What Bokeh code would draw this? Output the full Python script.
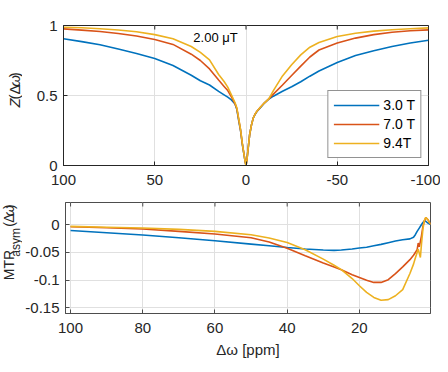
import math
from bokeh.plotting import figure
from bokeh.layouts import column, row
from bokeh.models import Range1d, FixedTicker, CustomJSTickFormatter, Label
from bokeh.embed import file_html
from bokeh.resources import INLINE

# ---------------- data ----------------
series_labels = ["3.0 T", "7.0 T", "9.4T"]
colors = ["#0072BD", "#D95319", "#EDB120"]

# Z-spectra (offset in ppm, normalised signal)
z_x = [100, 90, 80, 70, 60, 50, 40, 30, 25, 20, 15, 12, 10, 8, 6, 5, 4, 3, 2, 1, 0.5, 0,
       -0.5, -1, -2, -3, -4, -5, -6, -8, -10, -12.5, -15, -20, -25, -30, -35, -40,
       -50, -60, -70, -80, -90, -100]
z_3T = [0.905, 0.885, 0.862, 0.832, 0.800, 0.765, 0.714, 0.645, 0.605, 0.575, 0.530,
        0.505, 0.488, 0.468, 0.440, 0.400, 0.320, 0.250, 0.150, 0.070, 0.030, 0.0,
        0.040, 0.100, 0.220, 0.290, 0.340, 0.365, 0.385, 0.415, 0.445, 0.474, 0.495,
        0.530, 0.562, 0.598, 0.638, 0.675, 0.735, 0.785, 0.820, 0.850, 0.875, 0.895]
z_7T = [0.976, 0.967, 0.957, 0.943, 0.925, 0.900, 0.865, 0.795, 0.750, 0.690, 0.610,
        0.565, 0.535, 0.490, 0.440, 0.405, 0.330, 0.255, 0.155, 0.072, 0.032, 0.0,
        0.040, 0.100, 0.220, 0.290, 0.340, 0.368, 0.388, 0.418, 0.446, 0.476, 0.510,
        0.575, 0.643, 0.710, 0.775, 0.825, 0.875, 0.910, 0.935, 0.952, 0.962, 0.969]
z_94T = [0.988, 0.984, 0.977, 0.968, 0.955, 0.935, 0.905, 0.850, 0.808, 0.755, 0.650,
         0.600, 0.560, 0.505, 0.448, 0.410, 0.335, 0.258, 0.157, 0.073, 0.032, 0.0,
         0.040, 0.100, 0.220, 0.290, 0.340, 0.368, 0.388, 0.418, 0.446, 0.476, 0.535,
         0.640, 0.720, 0.790, 0.845, 0.878, 0.921, 0.945, 0.960, 0.970, 0.977, 0.983]

# MTR asymmetry
m_x_3T = [100, 90, 80, 70, 60, 50, 45, 40, 35, 30, 27, 25, 22, 20, 18, 16, 14, 12, 10, 8,
          6, 5, 4.5, 4, 3.5, 3, 2.5, 2, 1.6, 1, 0.5, 0]
m_3T = [-0.0104, -0.0145, -0.0186, -0.0235, -0.029, -0.035, -0.038, -0.041, -0.0437,
        -0.0455, -0.0462, -0.0455, -0.0438, -0.042, -0.0405, -0.038, -0.0355, -0.0325,
        -0.0295, -0.0272, -0.0255, -0.0225, -0.018, -0.012, -0.007, -0.002, 0.003,
        0.007, 0.006, 0.003, 0.001, 0.0]
m_x_7T = [100, 90, 80, 70, 60, 50, 45, 40, 35, 30, 27, 25, 22, 20, 18, 16, 14, 12, 10, 8,
          6, 5, 4.5, 4, 3.7, 3.4, 2.8, 2.4, 2, 1.6, 1, 0.5, 0]
m_7T = [-0.0036, -0.0055, -0.0078, -0.012, -0.0168, -0.0235, -0.031, -0.0425, -0.056,
        -0.069, -0.076, -0.081, -0.090, -0.095, -0.100, -0.104, -0.104, -0.099, -0.088,
        -0.076, -0.063, -0.055, -0.050, -0.045, -0.033, -0.040, -0.020, -0.003, 0.006,
        0.013, 0.009, 0.003, 0.0]
m_x_94T = [100, 90, 80, 70, 60, 50, 45, 40, 35, 30, 27, 25, 22, 20, 18, 16, 14, 12, 10, 8,
           6, 5, 4.5, 4, 3.7, 3.1, 2.8, 2.4, 2, 1.6, 1, 0.5, 0]
m_94T = [-0.003, -0.0045, -0.006, -0.0085, -0.012, -0.018, -0.024, -0.032, -0.045,
         -0.062, -0.073, -0.081, -0.097, -0.110, -0.122, -0.131, -0.136, -0.135, -0.128,
         -0.117, -0.088, -0.071, -0.060, -0.050, -0.044, -0.059, -0.035, -0.008, 0.008,
         0.013, 0.009, 0.003, 0.0]

top_xticks = [100, 50, 0, -50, -100]
top_yticks = [0, 0.5, 1]
bot_xticks = [100, 80, 60, 40, 20]
bot_yticks = [-0.15, -0.1, -0.05, 0]
annotation = "2.00 μT"

# ---------------- style ----------------
FONT = "Liberation Sans"
TXT = "#262626"
GRID = "#e0e0e0"
LAB_W = 22  # width of the strip holding the rotated y-axis titles


def style(p, xt, yt, axcol):
    for ax in p.axis:
        ax.axis_line_color = axcol
        ax.axis_line_width = 1
        ax.major_tick_line_color = axcol
        ax.minor_tick_line_color = None
        ax.major_tick_in = 4
        ax.major_tick_out = 0
        ax.major_label_text_font = FONT
        ax.major_label_text_font_size = "15px"
        ax.major_label_text_color = TXT
        ax.formatter = CustomJSTickFormatter(code="return tick.toString();")
    p.xaxis.ticker = FixedTicker(ticks=xt)
    p.yaxis.ticker = FixedTicker(ticks=yt)
    p.xaxis.major_label_standoff = 9
    p.yaxis.major_label_standoff = 6
    p.xgrid.grid_line_color = GRID
    p.ygrid.grid_line_color = GRID
    p.outline_line_color = axcol
    p.background_fill_color = "white"
    p.border_fill_color = "white"
    # inward ticks on the top and right edges of the box
    xr, yr = p.x_range, p.y_range
    p.ray(x=xt, y=[yr.end] * len(xt), length=4, length_units="screen",
          angle=-math.pi / 2, line_color=axcol, line_width=1)
    p.ray(x=[xr.end] * len(yt), y=yt, length=4, length_units="screen",
          angle=0 if xr.end < xr.start else math.pi, line_color=axcol, line_width=1)


def title_strip(height, pieces):
    """Narrow figure (pixel coordinates, y downward) holding a rotated axis title."""
    s = figure(width=LAB_W, height=height, x_range=Range1d(0, LAB_W),
               y_range=Range1d(height, 0), output_backend="svg", toolbar_location=None,
               min_border=0, outline_line_color=None)
    s.axis.visible = False
    s.grid.visible = False
    s.border_fill_color = "white"
    s.background_fill_color = "white"
    for text, x, y, size, st in pieces:
        s.add_layout(Label(x=x, y=y, text=text, angle=math.pi / 2, angle_units="rad",
                           text_align="left", text_baseline="middle", text_font=FONT,
                           text_font_size=size, text_font_style=st, text_color=TXT))
    return s


# ---------------- top: Z-spectra ----------------
top = figure(width=440 - LAB_W, height=193, x_range=Range1d(100, -100),
             y_range=Range1d(0, 1), output_backend="svg", toolbar_location=None,
             min_border_left=63 - LAB_W, min_border_right=12, min_border_top=25,
             min_border_bottom=28)
for ys, lab, c in zip([z_3T, z_7T, z_94T], series_labels, colors):
    top.line(z_x, ys, line_color=c, line_width=1.6, legend_label=lab)
style(top, top_xticks, top_yticks, "#262626")

top.add_layout(Label(x=16.7, y=0.916, text=annotation, text_align="center",
                     text_baseline="middle", text_font=FONT, text_font_size="13px",
                     text_color="black"))

lg = top.legend[0]
lg.location = "bottom_right"
lg.border_line_color = "#262626"
lg.border_line_width = 1
lg.background_fill_color = "white"
lg.background_fill_alpha = 1
lg.label_text_font = FONT
lg.label_text_font_size = "14px"
lg.label_text_color = "black"
lg.glyph_width = 46
lg.glyph_height = 18
lg.label_height = 18
lg.spacing = 1
lg.padding = 5
lg.margin = 7
lg.label_standoff = 4

top_title = title_strip(193, [
    ("Z", 13.5, 113, "15px", "italic"),
    ("(", 13.5, 102, "15px", "normal"),
    ("Δ", 13.5, 95, "15px", "normal"),
    ("ω", 13.5, 84.5, "15px", "italic"),
    (")", 13.5, 71.5, "15px", "normal"),
])

# ---------------- bottom: MTR asymmetry ----------------
bot = figure(width=440 - LAB_W, height=170, x_range=Range1d(101.4, 0.3),
             y_range=Range1d(-0.16, 0.04), output_backend="svg", toolbar_location=None,
             min_border_left=63 - LAB_W, min_border_right=10, min_border_top=9,
             min_border_bottom=50)
for xs, ys, c in zip([m_x_3T, m_x_7T, m_x_94T], [m_3T, m_7T, m_94T], colors):
    bot.line(xs, ys, line_color=c, line_width=1.6)
style(bot, bot_xticks, bot_yticks, "#4d4d4d")
xa = bot.below[0]
xa.axis_label = "Δω [ppm]"
xa.axis_label_text_font = FONT
xa.axis_label_text_font_size = "15px"
xa.axis_label_text_font_style = "normal"
xa.axis_label_text_color = TXT
xa.axis_label_standoff = 5

bot_title = title_strip(170, [
    ("MTR", 8, 119, "14px", "normal"),
    ("asym", 15, 83, "12px", "normal"),
    ("(", 8.5, 37, "14px", "normal"),
    ("Δ", 8.5, 31, "14px", "normal"),
    ("ω", 8.5, 21, "14px", "italic"),
    (")", 8.5, 10, "14px", "normal"),
])

layout = column(row(top_title, top), row(bot_title, bot))
open("out.html", "w").write(file_html(layout, INLINE))
